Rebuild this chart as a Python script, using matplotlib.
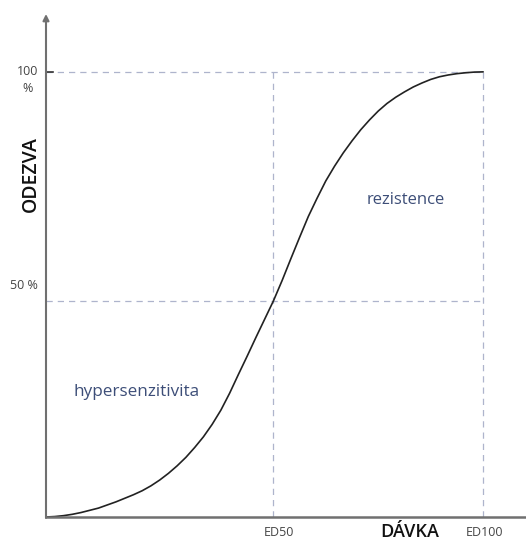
import matplotlib
matplotlib.use("Agg")
import matplotlib.pyplot as plt

# dose (0..100 = ED100) vs response (%)
davka = [0, 2, 4, 6, 8, 10, 12, 14, 16, 18, 20, 22, 24, 26, 28, 30, 32, 34, 36, 38,
         40, 42, 44, 46, 48, 50, 52, 54, 56, 58, 60, 62, 64, 66, 68, 70, 72, 74, 76,
         78, 80, 82, 84, 86, 88, 90, 92, 94, 96, 98, 100]
odezva = [0, 0.1, 0.3, 0.6, 1.0, 1.5, 2.0, 2.7, 3.4, 4.2, 5.0, 5.9, 7.0, 8.3, 9.8,
          11.5, 13.4, 15.6, 18.0, 20.8, 24.0, 27.8, 32.0, 36.1, 40.3, 44.4, 48.5,
          53.1, 58.0, 62.8, 67.5, 71.6, 75.5, 78.8, 81.8, 84.5, 87.0, 89.2, 91.2,
          92.9, 94.3, 95.5, 96.6, 97.5, 98.3, 98.9, 99.3, 99.6, 99.8, 99.95, 100]

ed50 = 52
ed100 = 100
half = 48.5
full = 100

plt.rcParams['font.family'] = ['Open Sans', 'DejaVu Sans']

fig = plt.figure(figsize=(5.26, 5.41), dpi=100)
ax = fig.add_axes([46/526, 24/541, 480/526, 503/541])
ax.set_xlim(0, 109.8)
ax.set_ylim(0, 113.0)
ax.axis('off')

dash = dict(color='#aeb4cc', lw=0.9, ls=(0, (5, 4)))
ax.plot([0, ed100], [full, full], **dash)
ax.plot([0, ed100], [half, half], **dash)
ax.plot([ed50, ed50], [0, full], **dash)
ax.plot([ed100, ed100], [0, full], **dash)

ax.plot(davka, odezva, color='#222222', lw=1.2, solid_capstyle='round',
        solid_joinstyle='round')

# axes
ax.plot([0, 109.8], [0, 0], color='#707070', lw=1.8, clip_on=False)
ax.annotate('', xy=(0, 113.0), xytext=(0, -0.2),
            arrowprops=dict(arrowstyle='-|>', color='#707070', lw=1.5,
                            mutation_scale=9, shrinkA=0, shrinkB=0))
ax.plot([0, 1.6], [full, full], color='#333333', lw=1.2)

gray = '#444444'
ax.text(-1.8, full, '100', ha='right', va='center', fontsize=9, color=gray)
ax.text(-3.0, full - 3.8, '%', ha='right', va='center', fontsize=9, color=gray)
ax.text(-1.8, half + 3.5, '50 %', ha='right', va='center', fontsize=9, color=gray)
ax.text(ed50 + 1.3, -3.4, 'ED50', ha='center', va='center', fontsize=9, color=gray)
ax.text(ed100 + 0.2, -3.4, 'ED100', ha='center', va='center', fontsize=9, color=gray)

ax.text(83.3, -3.4, 'DÁVKA', ha='center', va='center', fontsize=13,
        fontweight='semibold', color='#111111')
ax.text(-3.5, 77.0, 'ODEZVA', ha='center', va='center', fontsize=14,
        fontweight='semibold', color='#111111', rotation=90)

blue = '#3d4e78'
ax.text(20.8, 28.1, 'hypersenzitivita', ha='center', va='center', fontsize=12.3, color=blue)
ax.text(82.2, 71.2, 'rezistence', ha='center', va='center', fontsize=12, color=blue)

fig.savefig('out.png', dpi=100)
